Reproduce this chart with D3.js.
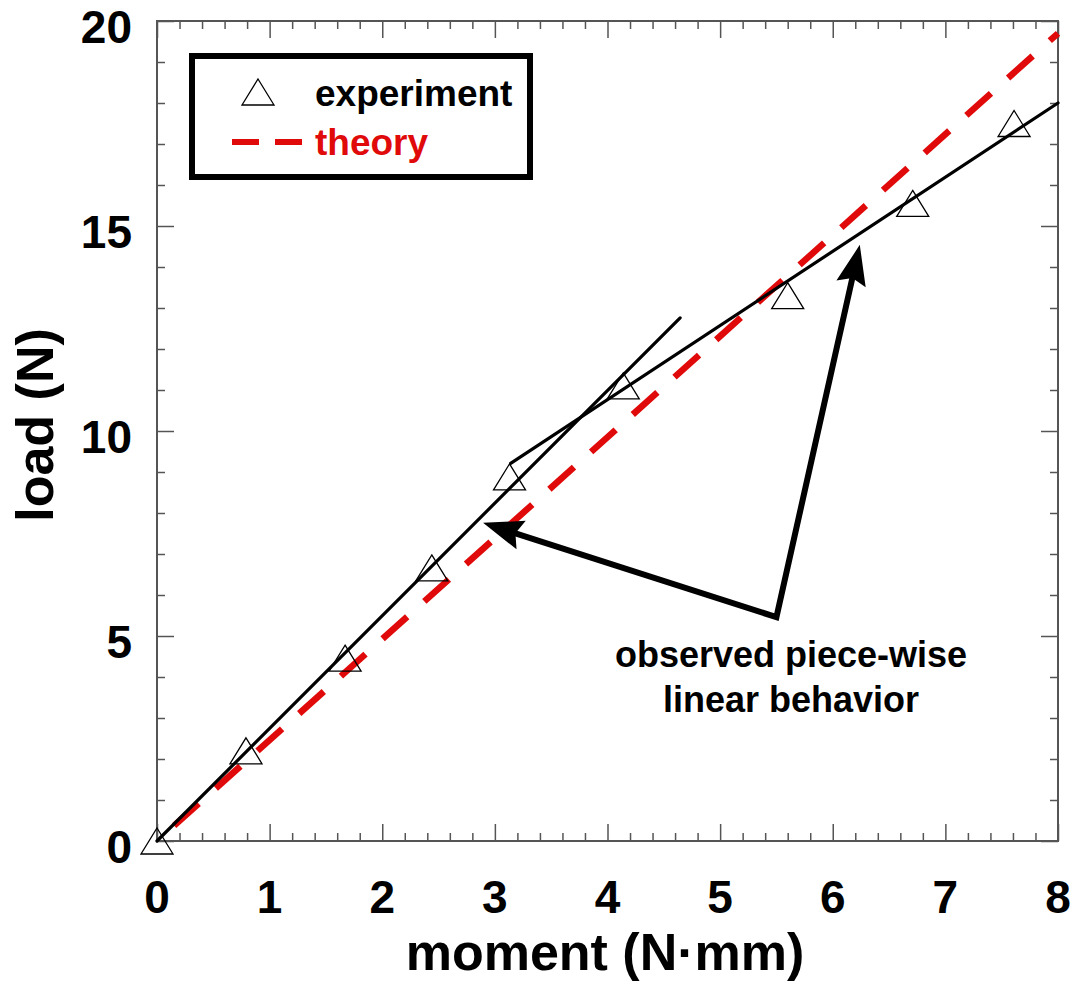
<!DOCTYPE html>
<html><head><meta charset="utf-8">
<script src="https://cdn.jsdelivr.net/npm/d3@7"></script>
<style>
html,body{margin:0;padding:0;background:#fff;}
svg{display:block;font-family:"Liberation Sans",Arial,sans-serif;font-weight:bold;}
</style></head>
<body>
<svg id="chart" width="1073" height="982"></svg>
<script>
// ---- data ----
const expMoment = [0, 0.79, 1.67, 2.44, 3.13, 4.14, 5.6, 6.71, 7.61];
const expLoad   = [0, 2.2, 4.46, 6.66, 8.88, 11.1, 13.3, 15.55, 17.5];
const theoryMoment = [0, 8];
const theoryLoad   = [0, 19.7];
const fit1Moment = [0, 4.645];
const fit1Load   = [0, 12.76];
const fit2Moment = [3.14, 8];
const fit2Load   = [9.21, 18.0];
const arrowMoment = [2.895, 5.5, 6.24];   // tip, vertex, tip
const arrowLoad   = [7.76, 5.46, 14.54];
const xTicks = [0,1,2,3,4,5,6,7,8];
const yTicks = [0,5,10,15,20];
const xMinor = d3.range(0, 8.0001, 0.2);
const yMinor = d3.range(0, 20.0001, 1);
const legendLabels = ["experiment", "theory"];
const annotation = ["observed piece-wise", "linear behavior"];
const xTitle = "moment (N·mm)";
const yTitle = "load (N)";

// ---- layout ----
const L = 157, R = 1058, T = 21, B = 841;
const RED = "#e00a0a", AX = "#555";
const svg = d3.select("#chart");
const x = d3.scaleLinear().domain([0, 8]).range([L, R]);
const y = d3.scaleLinear().domain([0, 20]).range([B, T]);

// ticks (inward on all four sides)
function ticks(axisFn, scale, vals, size, tr) {
  const g = svg.append("g").attr("transform", tr)
    .call(axisFn(scale).tickValues(vals).tickSize(size).tickFormat(""));
  g.select(".domain").remove();
  g.selectAll(".tick line").attr("stroke", AX).attr("stroke-width", 1.5);
}
const xMinorOnly = xMinor.filter(v => Math.abs(v - Math.round(v)) > 1e-6);
const yMinorOnly = yMinor.filter(v => v % 5 !== 0);
ticks(d3.axisBottom, x, xMinorOnly, -8, `translate(0,${B})`);
ticks(d3.axisBottom, x, xTicks, -17, `translate(0,${B})`);
ticks(d3.axisTop, x, xMinorOnly, -8, `translate(0,${T})`);
ticks(d3.axisTop, x, xTicks, -17, `translate(0,${T})`);
ticks(d3.axisLeft, y, yMinorOnly, -8, `translate(${L},0)`);
ticks(d3.axisLeft, y, yTicks, -17, `translate(${L},0)`);
ticks(d3.axisRight, y, yMinorOnly, -8, `translate(${R},0)`);
ticks(d3.axisRight, y, yTicks, -17, `translate(${R},0)`);

svg.append("rect").attr("x", L).attr("y", T).attr("width", R - L).attr("height", B - T)
  .attr("fill", "none").attr("stroke", AX).attr("stroke-width", 2);

// tick labels
svg.append("g").selectAll("text").data(xTicks).join("text")
  .attr("x", d => x(d)).attr("y", B + 72).attr("text-anchor", "middle")
  .attr("font-size", 46).text(d => d);
svg.append("g").selectAll("text").data(yTicks).join("text")
  .attr("x", L - 25).attr("y", d => y(d) + 22).attr("text-anchor", "end")
  .attr("font-size", 46).text(d => d);

// axis titles
svg.append("text").attr("x", 605).attr("y", 970).attr("text-anchor", "middle")
  .attr("font-size", 52).text(xTitle);
svg.append("text").attr("transform", "translate(53,425) rotate(-90)")
  .attr("text-anchor", "middle").attr("font-size", 52).text(yTitle);

const line = d3.line().x(d => x(d[0])).y(d => y(d[1]));

// theory dashed line
svg.append("path").datum(d3.zip(theoryMoment, theoryLoad)).attr("d", line)
  .attr("fill", "none").attr("stroke", RED).attr("stroke-width", 6.5)
  .attr("stroke-dasharray", "33,23").attr("stroke-dashoffset", 33);

// fitted black lines
[[fit1Moment, fit1Load], [fit2Moment, fit2Load]].forEach(([m, l]) => {
  svg.append("path").datum(d3.zip(m, l)).attr("d", line)
    .attr("fill", "none").attr("stroke", "#000").attr("stroke-width", 3.2)
    .attr("stroke-linecap", "round");
});

// experiment markers
const tri = (cx, cy) => `M${cx},${cy - 13}L${cx + 16},${cy + 13}L${cx - 16},${cy + 13}Z`;
svg.append("g").selectAll("path").data(d3.zip(expMoment, expLoad)).join("path")
  .attr("d", d => tri(x(d[0]), y(d[1])))
  .attr("fill", "none").attr("stroke", "#000").attr("stroke-width", 1.3);

// annotation arrows
const ap = d3.zip(arrowMoment, arrowLoad).map(d => [x(d[0]), y(d[1])]);
function head(tip, from) {
  const dx = tip[0] - from[0], dy = tip[1] - from[1];
  const len = Math.hypot(dx, dy), ux = dx / len, uy = dy / len;
  const hl = 40, hw = 15, notch = 6;
  const bx = tip[0] - ux * hl, by = tip[1] - uy * hl;
  const nx = tip[0] - ux * (hl - notch), ny = tip[1] - uy * (hl - notch);
  return `M${tip[0]},${tip[1]}L${bx - uy * hw},${by + ux * hw}L${nx},${ny}L${bx + uy * hw},${by - ux * hw}Z`;
}
function shorten(tip, from, d) {
  const dx = tip[0] - from[0], dy = tip[1] - from[1];
  const len = Math.hypot(dx, dy);
  return [tip[0] - dx / len * d, tip[1] - dy / len * d];
}
const a1 = shorten(ap[0], ap[1], 30), a2 = shorten(ap[2], ap[1], 30);
svg.append("path").attr("d", `M${a1[0]},${a1[1]}L${ap[1][0]},${ap[1][1]}L${a2[0]},${a2[1]}`)
  .attr("fill", "none").attr("stroke", "#000").attr("stroke-width", 6).attr("stroke-linejoin", "miter");
svg.append("path").attr("d", head(ap[0], ap[1])).attr("fill", "#000");
svg.append("path").attr("d", head(ap[2], ap[1])).attr("fill", "#000");

// annotation text
svg.append("g").selectAll("text").data(annotation).join("text")
  .attr("x", 791).attr("y", (d, i) => 667 + i * 45).attr("text-anchor", "middle")
  .attr("font-size", 36).text(d => d);

// legend
svg.append("rect").attr("x", 192).attr("y", 56).attr("width", 338).attr("height", 121)
  .attr("fill", "#fff").attr("stroke", "#000").attr("stroke-width", 6);
svg.append("path").attr("d", tri(258, 92)).attr("fill", "none").attr("stroke", "#000").attr("stroke-width", 1.3);
svg.append("line").attr("x1", 232).attr("x2", 302).attr("y1", 142).attr("y2", 142)
  .attr("stroke", RED).attr("stroke-width", 6).attr("stroke-dasharray", "27,16");
svg.append("g").selectAll("text").data(legendLabels).join("text")
  .attr("x", 315).attr("y", (d, i) => 106 + i * 49)
  .attr("font-size", 37).attr("fill", (d, i) => i ? RED : "#000").text(d => d);
</script>
</body></html>
